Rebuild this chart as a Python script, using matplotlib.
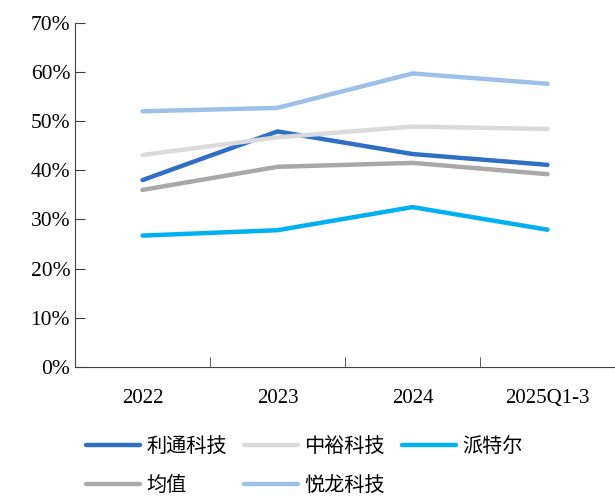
import numpy as np
import matplotlib.pyplot as plt
from matplotlib.ticker import FixedLocator, PercentFormatter

plt.rcParams['font.family'] = ['Liberation Serif', 'Noto Sans CJK SC']

categories = ['2022', '2023', '2024', '2025Q1-3']
litong = [38.0, 47.9, 43.3, 41.1]
zhongyu = [43.1, 46.7, 48.9, 48.4]
paiteer = [26.7, 27.8, 32.5, 27.9]
junzhi = [36.0, 40.7, 41.5, 39.2]
yuelong = [52.0, 52.7, 59.7, 57.6]

series = [
    ('利通科技', litong, '#2F70C4'),
    ('中裕科技', zhongyu, '#DADADA'),
    ('派特尔', paiteer, '#00B0F0'),
    ('均值', junzhi, '#A9A7A8'),
    ('悦龙科技', yuelong, '#9DC0E8'),
]

fig = plt.figure(figsize=(6.15, 4.97), dpi=100)
ax = fig.add_axes([0.122, 0.262, 0.878, 0.692])

x = np.arange(len(categories))
lines = {}
for name, vals, color in series:
    lines[name], = ax.plot(x, vals, color=color, lw=3.2, label=name,
                           solid_capstyle='round')

ax.set_xlim(-0.5, len(categories) - 0.5)
ax.set_ylim(0, 70)
ax.set_yticks(np.arange(0, 71, 10))
ax.yaxis.set_major_formatter(PercentFormatter(decimals=0))
ax.set_xticks(x)
ax.set_xticklabels(categories)
ax.xaxis.set_minor_locator(FixedLocator(list(x + 0.5)))
ax.tick_params(axis='x', which='major', length=0, pad=16, labelsize=15)
ax.tick_params(axis='x', which='minor', direction='in', length=7, color='#404040')
ax.tick_params(axis='y', direction='in', length=7, labelsize=15.5, color='#404040')
for s in ['top', 'right']:
    ax.spines[s].set_visible(False)
for s in ['left', 'bottom']:
    ax.spines[s].set_color('#404040')

# legend fills by column, so order the entries to read row by row
order = ['利通科技', '均值', '中裕科技', '悦龙科技', '派特尔']
fig.legend([lines[n] for n in order], order, loc='lower left',
           bbox_to_anchor=(0.11, -0.035), ncol=3, frameon=False,
           prop={'family': 'Noto Sans CJK SC', 'size': 14.5},
           handlelength=2.7, handletextpad=0.3, columnspacing=0.85,
           labelspacing=0.9)

fig.savefig('out.png', dpi=100)
